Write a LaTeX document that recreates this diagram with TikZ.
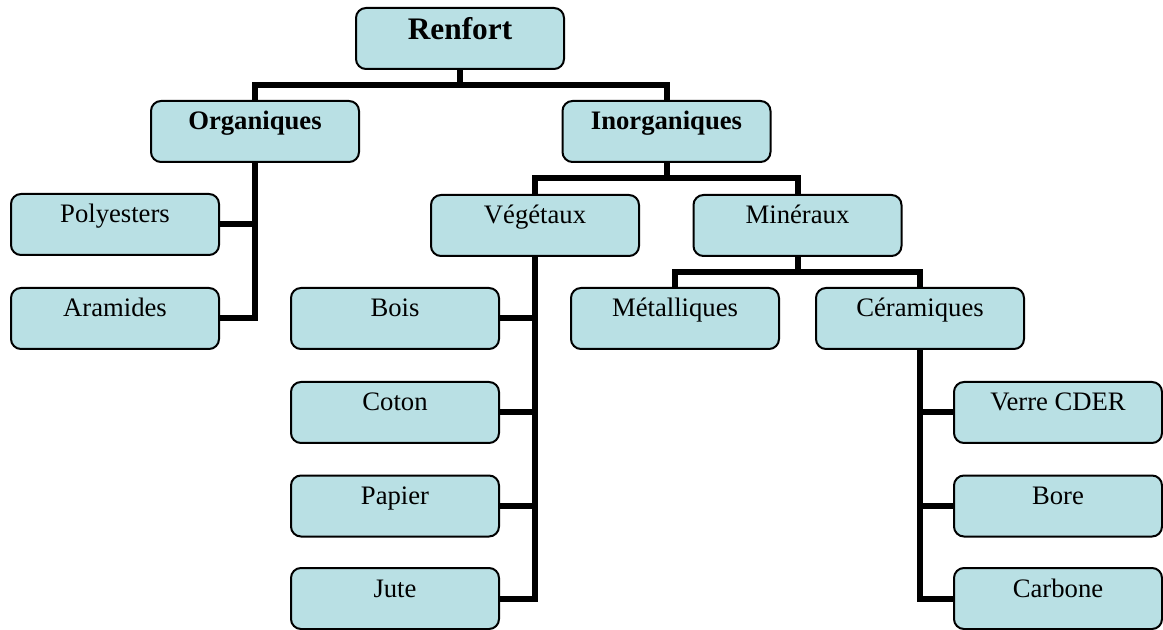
\documentclass[tikz,border=0pt]{standalone}
\usepackage{fontspec}
\setmainfont{Liberation Serif}
\definecolor{boxfill}{RGB}{185,224,228}
\begin{document}
\begin{tikzpicture}[x=0.75pt,y=-0.75pt,
  box/.style={draw, line width=1.5pt, rounded corners=7.5pt, fill=boxfill,
    minimum width=156pt, inner xsep=0pt, inner ysep=0pt,
    text height=21.75pt, text depth=24pt,
    font=\fontsize{20}{24}\selectfont},
  headbox/.style={box, font=\fontsize{20}{24}\selectfont\bfseries},
  rootbox/.style={box, text height=24pt, text depth=21.75pt,
    font=\fontsize{23.5}{28}\selectfont\bfseries},
  link/.style={line width=4.5pt}]
\useasboundingbox (0,0) rectangle (1163,630);

% top level
\node[rootbox] (renfort) at (460,38.5) {Renfort};
\node[headbox] (org) at (255,131.5) {Organiques};
\node[headbox] (inorg) at (666.5,131.5) {Inorganiques};

% organic branch
\node[box] (poly) at (115,224.5) {Polyesters};
\node[box] (aram) at (115,318.5) {Aramides};

% inorganic branch
\node[box] (veg) at (535,225.5) {Végétaux};
\node[box] (min) at (797.5,225.5) {Minéraux};

\node[box] (bois) at (395,318.5) {Bois};
\node[box] (coton) at (395,412.5) {Coton};
\node[box] (papier) at (395,506) {Papier};
\node[box] (jute) at (395,598.5) {Jute};

\node[box] (metal) at (675,318.5) {Métalliques};
\node[box] (ceram) at (920,318.5) {Céramiques};

\node[box] (verre) at (1058,412.5) {Verre CDER};
\node[box] (bore) at (1058,506) {Bore};
\node[box] (carb) at (1058,598.5) {Carbone};

% connectors
\draw[link] (renfort.south) -- ++(0,15) -| (org.north);
\draw[link] (renfort.south) -- ++(0,15) -| (inorg.north);

\draw[link] (org.south) |- (aram.east);
\draw[link] (poly.east) -- (poly.east -| org.south);

\draw[link] (inorg.south) -- ++(0,15) -| (veg.north);
\draw[link] (inorg.south) -- ++(0,15) -| (min.north);

\draw[link] (veg.south) |- (jute.east);
\draw[link] (bois.east) -- (bois.east -| veg.south);
\draw[link] (coton.east) -- (coton.east -| veg.south);
\draw[link] (papier.east) -- (papier.east -| veg.south);

\draw[link] (min.south) -- ++(0,15) -| (metal.north);
\draw[link] (min.south) -- ++(0,15) -| (ceram.north);

\draw[link] (ceram.south) |- (carb.west);
\draw[link] (verre.west) -- (verre.west -| ceram.south);
\draw[link] (bore.west) -- (bore.west -| ceram.south);
\end{tikzpicture}
\end{document}
